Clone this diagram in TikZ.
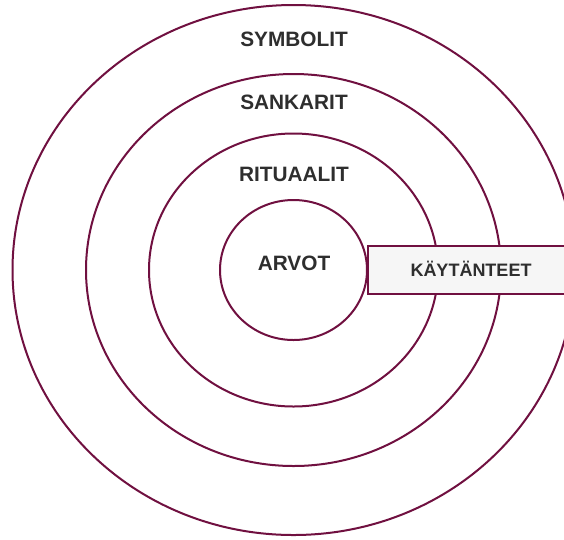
\documentclass[tikz,border=0pt]{standalone}
\usepackage{fontspec}
\setmainfont{Liberation Sans}
\begin{document}
\begin{tikzpicture}[
  ring/.style={draw=ringc, line width=2pt},
  lbl/.style={font=\bfseries\fontsize{20.8}{24}\selectfont, text=txtc, anchor=base, inner sep=0pt},
  boxlbl/.style={font=\bfseries\fontsize{18}{22}\selectfont, text=txtc, anchor=base, inner sep=0pt},
  pbox/.style={draw=ringc, fill=boxc, line width=2pt}
]
\definecolor{ringc}{HTML}{701040}
\definecolor{boxc}{HTML}{F6F6F6}
\definecolor{txtc}{HTML}{2E2E2E}
\useasboundingbox (0pt,0pt) rectangle (564pt,-539pt);
\clip (0pt,0pt) rectangle (564pt,-539pt);
\fill[white] (0pt,0pt) rectangle (564pt,-539pt);
\coordinate (c) at (293.5pt,-270pt);
\draw[ring] (c) ellipse [x radius=281pt, y radius=265pt];
\draw[ring] (c) ellipse [x radius=207.5pt, y radius=196pt];
\draw[ring] (c) ellipse [x radius=144.5pt, y radius=136.5pt];
\draw[ring] (c) ellipse [x radius=73.5pt, y radius=70pt];
\draw[pbox] (368pt,-245.5pt) coordinate (bl) rectangle (580pt,-293.5pt) coordinate (br);
\node[lbl] (symbolit) at (294pt,-46pt) {SYMBOLIT};
\node[lbl] (sankarit) at (294pt,-109pt) {SANKARIT};
\node[lbl] (rituaalit) at (294pt,-181pt) {RITUAALIT};
\node[lbl] (arvot) at (294pt,-270pt) {ARVOT};
\node[boxlbl] (kaytanteet) at (471pt,-276.5pt) {KÄYTÄNTEET};
\end{tikzpicture}
\end{document}
